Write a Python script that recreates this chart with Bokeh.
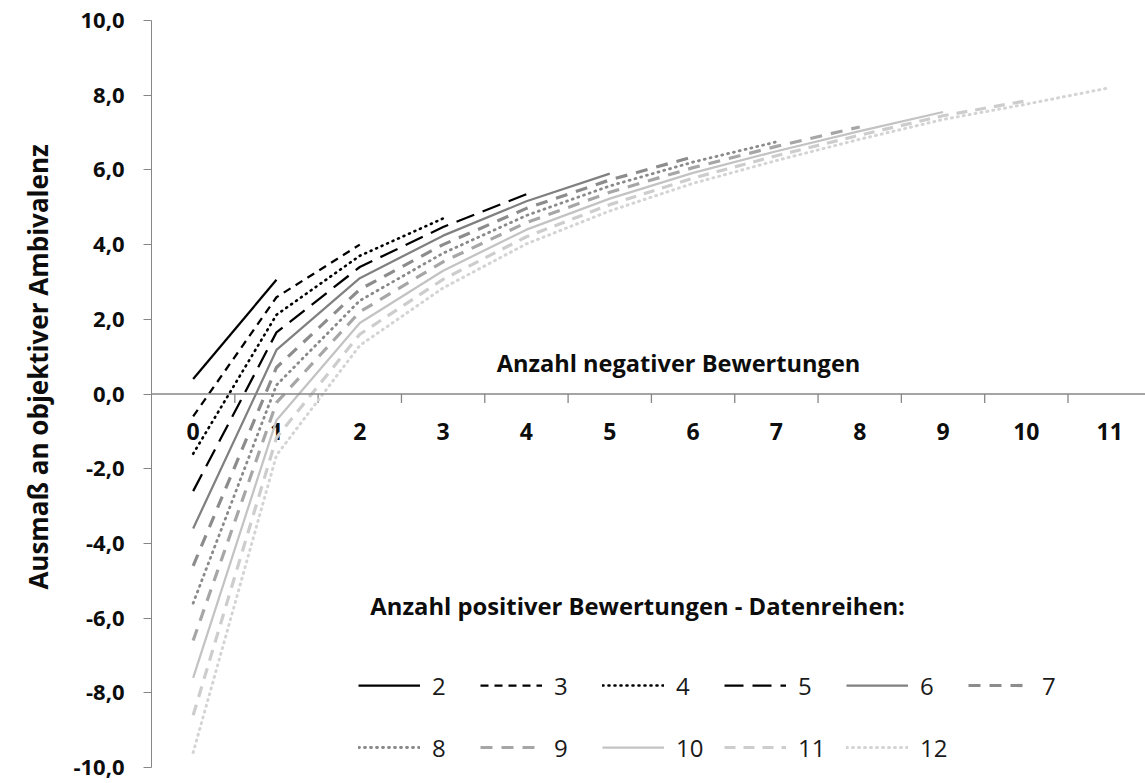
from bokeh.plotting import figure
from bokeh.models import (Range1d, FixedTicker, CustomJSTickFormatter, Span, Label,
                          Legend, LegendItem, ColumnDataSource)
from bokeh.core.properties import value
from bokeh.embed import file_html
from bokeh.resources import INLINE

# ---------------- data ----------------
categories = ["0", "1", "2", "3", "4", "5", "6", "7", "8", "9", "10", "11"]
series_names = ["2", "3", "4", "5", "6", "7", "8", "9", "10", "11", "12"]
y_ticks = [-10, -8, -6, -4, -2, 0, 2, 4, 6, 8, 10]

s2 = [0.40, 3.06]
s3 = [-0.60, 2.59, 4.00]
s4 = [-1.60, 2.12, 3.70, 4.70]
s5 = [-2.60, 1.65, 3.40, 4.47, 5.35]
s6 = [-3.60, 1.18, 3.10, 4.24, 5.16, 5.90]
s7 = [-4.60, 0.71, 2.80, 4.00, 4.97, 5.73, 6.35]
s8 = [-5.60, 0.24, 2.50, 3.77, 4.78, 5.57, 6.21, 6.75]
s9 = [-6.60, -0.23, 2.20, 3.54, 4.59, 5.40, 6.06, 6.63, 7.15]
s10 = [-7.60, -0.70, 1.90, 3.30, 4.40, 5.23, 5.92, 6.50, 7.04, 7.55]
s11 = [-8.60, -1.17, 1.60, 3.07, 4.21, 5.07, 5.78, 6.38, 6.93, 7.45, 7.85]
s12 = [-9.60, -1.64, 1.30, 2.84, 4.02, 4.90, 5.64, 6.25, 6.82, 7.35, 7.76, 8.20]
all_series = [s2, s3, s4, s5, s6, s7, s8, s9, s10, s11, s12]

# ---------------- styles ----------------
styles = [
    dict(color="#000000", width=2.25, dash="solid", cap="butt"),
    dict(color="#000000", width=2.25, dash="8 6", cap="butt"),
    dict(color="#000000", width=2.6, dash="1 5", cap="round"),
    dict(color="#000000", width=2.25, dash="19 9", cap="butt"),
    dict(color="#808080", width=2.25, dash="solid", cap="butt"),
    dict(color="#8c8c8c", width=3.2, dash="12 9", cap="butt"),
    dict(color="#8a8a8a", width=2.8, dash="1 5", cap="round"),
    dict(color="#a6a6a6", width=3.2, dash="12 9", cap="butt"),
    dict(color="#c3c3c3", width=2.25, dash="solid", cap="butt"),
    dict(color="#cdcdcd", width=3.2, dash="11 8", cap="butt"),
    dict(color="#d4d4d4", width=3.0, dash="1 5", cap="round"),
]

FONT = "Open Sans"
TXT = "#0d0d0d"
AXC = "#868686"

p = figure(width=1145, height=783, output_backend="svg", toolbar_location=None,
           x_range=Range1d(-0.5, 11.43), y_range=Range1d(-10, 10),
           min_border_left=151, min_border_right=0, min_border_top=20,
           min_border_bottom=16)
p.outline_line_color = None
p.xgrid.visible = False
p.ygrid.visible = False
p.xaxis.visible = False
p.background_fill_color = "white"

# y axis
ya = p.yaxis[0]
ya.ticker = FixedTicker(ticks=y_ticks)
ya.formatter = CustomJSTickFormatter(code="return tick.toFixed(1).replace('.', ',');")
ya.axis_line_color = AXC
ya.major_tick_line_color = AXC
ya.major_tick_out = 8
ya.major_tick_in = 0
ya.minor_tick_line_color = None
ya.major_label_standoff = 19
ya.major_label_text_font = FONT
ya.major_label_text_font_style = "bold"
ya.major_label_text_font_size = "22px"
ya.major_label_text_color = TXT
pad = "\u00a0" * 8
ya.axis_label = pad + "Ausmaß an objektiver Ambivalenz"
ya.axis_label_text_font = FONT
ya.axis_label_text_font_style = "bold"
ya.axis_label_text_font_size = "26px"
ya.axis_label_text_color = TXT
ya.axis_label_standoff = 14

# x axis drawn at y = 0 (crossing inside the plot)
p.add_layout(Span(location=0, dimension="width", line_color=AXC, line_width=1.3))
xpos = list(range(len(categories)))
tick_pos = [i + 0.5 for i in xpos[:-1]]
p.segment(x0=tick_pos, y0=[0] * len(tick_pos), x1=tick_pos,
          y1=[-0.24] * len(tick_pos), line_color=AXC, line_width=1.3)
p.text(x=xpos, y=[0] * len(xpos), text=categories, y_offset=37,
       text_align="center", text_baseline="middle",
       text_font=value(FONT), text_font_style="bold", text_font_size="23px",
       text_color=TXT)

# series lines
items = []
for name, ys, st in zip(series_names, all_series, styles):
    src = ColumnDataSource(dict(x=xpos[:len(ys)], y=ys))
    r = p.line("x", "y", source=src, line_color=st["color"], line_width=st["width"],
               line_dash=st["dash"], line_cap=st["cap"], line_join="round")
    items.append(LegendItem(label=name, renderers=[r]))

legend = Legend(items=items, orientation="horizontal", ncols=6,
                location=(207, -5), padding=0, margin=0, spacing=12,
                glyph_width=62, glyph_height=50, label_standoff=12, label_width=36,
                label_text_font=FONT, label_text_font_size="24px",
                label_text_color="#1a1a1a",
                title="\u00a0\u00a0Anzahl positiver Bewertungen - Datenreihen:",
                title_text_font=FONT, title_text_font_style="bold",
                title_text_font_size="23.8px", title_text_color=TXT,
                title_standoff=38,
                border_line_alpha=0, background_fill_alpha=0)
p.add_layout(legend, "center")

# x axis title
p.add_layout(Label(x=527, y=405, x_units="screen", y_units="screen",
                   text="Anzahl negativer Bewertungen", text_align="center",
                   text_baseline="middle", text_font=FONT, text_font_style="bold",
                   text_font_size="23.6px", text_color=TXT))

open("out.html", "w").write(file_html(p, INLINE))
